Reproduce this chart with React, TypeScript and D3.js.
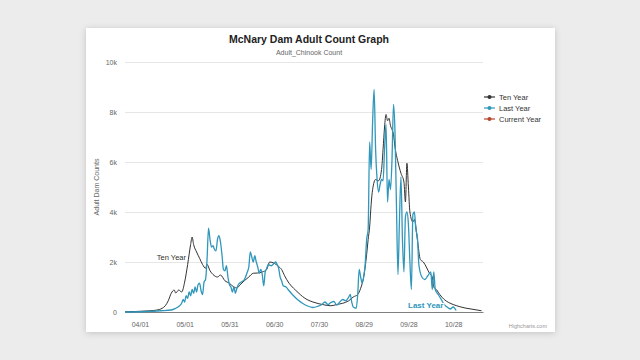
import React, { useEffect, useRef } from 'react';
import * as d3 from 'd3';

// Tick labels for the x axis (MM/DD) and y axis
const xTickLabels = ['04/01', '05/01', '05/31', '06/30', '07/30', '08/29', '09/28', '10/28'];
const yTicks = [0, 2000, 4000, 6000, 8000, 10000];

const legendItems = ['Ten Year', 'Last Year', 'Current Year'];

// Ten year average daily counts [MM/DD, count]
const tenYear: [string, number][] = [
    ['03/22', 10], ['03/29', 20], ['04/05', 40], ['04/10', 60], ['04/14', 100], ['04/16', 150],
    ['04/18', 250], ['04/20', 450], ['04/22', 750], ['04/24', 880], ['04/25', 760], ['04/27', 880],
    ['04/29', 800], ['05/01', 1200], ['05/03', 1900], ['05/05', 2700], ['05/06', 3000], ['05/07', 2700],
    ['05/09', 2400], ['05/11', 2150], ['05/13', 1900], ['05/15', 1750], ['05/16', 1900], ['05/18', 1650],
    ['05/20', 1500], ['05/23', 1400], ['05/25', 1480], ['05/28', 1250], ['05/31', 1150], ['06/03', 1000],
    ['06/05', 960], ['06/07', 1080], ['06/10', 1250], ['06/13', 1400], ['06/16', 1550], ['06/19', 1560],
    ['06/22', 1600], ['06/25', 1700], ['06/27', 2000], ['06/30', 1950], ['07/03', 1820], ['07/05', 1700],
    ['07/07', 1450], ['07/10', 1150], ['07/13', 950], ['07/16', 780], ['07/19', 620], ['07/22', 500],
    ['07/26', 400], ['07/30', 330], ['08/03', 280], ['08/07', 250], ['08/11', 300], ['08/15', 350],
    ['08/19', 450], ['08/22', 600], ['08/25', 700], ['08/27', 950], ['08/29', 1400], ['08/31', 2300],
    ['09/01', 2900], ['09/02', 3400], ['09/03', 4300], ['09/04', 4900], ['09/06', 5300], ['09/08', 5250],
    ['09/10', 5700], ['09/11', 6500], ['09/12', 7400], ['09/13', 7900], ['09/14', 7650], ['09/15', 7750],
    ['09/16', 7450], ['09/17', 7300], ['09/18', 7100], ['09/19', 6600], ['09/21', 6000], ['09/23', 5550],
    ['09/25', 5200], ['09/26', 4400], ['09/27', 5950], ['09/28', 5000], ['09/29', 4000], ['10/01', 3600],
    ['10/02', 3700], ['10/04', 2900], ['10/06', 2100], ['10/08', 2000], ['10/10', 1800], ['10/12', 1560],
    ['10/14', 1400], ['10/15', 1000], ['10/17', 880], ['10/19', 700], ['10/22', 500], ['10/25', 380],
    ['10/28', 300], ['11/01', 220], ['11/05', 160], ['11/09', 120], ['11/13', 80], ['11/16', 50]
];

// Last year daily counts [MM/DD, count]
const lastYear: [string, number][] = [
    ['03/22', 0], ['04/05', 20], ['04/15', 50], ['04/22', 80], ['04/25', 150], ['04/27', 220],
    ['04/29', 350], ['04/30', 500], ['05/01', 400], ['05/02', 650], ['05/03', 550], ['05/04', 800],
    ['05/05', 650], ['05/06', 900], ['05/07', 750], ['05/08', 1000], ['05/09', 800], ['05/10', 1100],
    ['05/11', 1150], ['05/12', 850], ['05/13', 700], ['05/14', 1200], ['05/15', 1300], ['05/16', 2100],
    ['05/17', 3350], ['05/18', 2900], ['05/19', 2600], ['05/20', 2650], ['05/21', 2500], ['05/22', 2450],
    ['05/23', 2900], ['05/24', 3050], ['05/25', 2800], ['05/26', 2300], ['05/27', 1700], ['05/28', 1650],
    ['05/29', 1850], ['05/30', 1400], ['05/31', 1100], ['06/01', 1000], ['06/02', 800], ['06/03', 1000],
    ['06/04', 750], ['06/05', 950], ['06/06', 1100], ['06/08', 1200], ['06/10', 1300], ['06/12', 1600],
    ['06/13', 1800], ['06/14', 2400], ['06/15', 2200], ['06/16', 2000], ['06/17', 2250], ['06/18', 2000],
    ['06/19', 1800], ['06/20', 1550], ['06/21', 1700], ['06/22', 1500], ['06/23', 1050], ['06/24', 1600],
    ['06/25', 1750], ['06/26', 1900], ['06/28', 1850], ['06/30', 1950], ['07/01', 2000], ['07/02', 1900],
    ['07/03', 1750], ['07/04', 1400], ['07/05', 1250], ['07/06', 1050], ['07/08', 1000], ['07/10', 850],
    ['07/13', 650], ['07/16', 480], ['07/19', 350], ['07/22', 250], ['07/26', 180], ['07/29', 220],
    ['08/01', 300], ['08/03', 400], ['08/05', 300], ['08/07', 380], ['08/09', 420], ['08/11', 280],
    ['08/13', 400], ['08/15', 500], ['08/17', 450], ['08/19', 600], ['08/20', 700], ['08/21', 400],
    ['08/22', 200], ['08/24', 150], ['08/25', 700], ['08/26', 1700], ['08/27', 1400], ['08/28', 1150],
    ['08/29', 1400], ['08/30', 1900], ['08/31', 2900], ['09/01', 3300], ['09/02', 6800], ['09/03', 5700],
    ['09/04', 7600], ['09/05', 8900], ['09/06', 6500], ['09/07', 5300], ['09/08', 4800], ['09/09', 5100],
    ['09/10', 5300], ['09/11', 5250], ['09/12', 6500], ['09/13', 7500], ['09/14', 4400], ['09/15', 5300],
    ['09/16', 4900], ['09/17', 6100], ['09/18', 8300], ['09/19', 7200], ['09/20', 4200], ['09/21', 1500],
    ['09/22', 3700], ['09/23', 5400], ['09/24', 2900], ['09/25', 1600], ['09/26', 3800], ['09/27', 4000],
    ['09/28', 3500], ['09/29', 2000], ['09/30', 900], ['10/01', 3900], ['10/02', 4000], ['10/03', 3300],
    ['10/04', 3000], ['10/05', 1900], ['10/07', 1400], ['10/09', 1300], ['10/11', 1450], ['10/13', 1600],
    ['10/14', 900], ['10/15', 1600], ['10/16', 900], ['10/18', 700], ['10/20', 500], ['10/22', 300],
    ['10/24', 200], ['10/26', 120], ['10/28', 200], ['10/30', 60]
];

const colors = { ten: '#333333', last: '#3097bb', current: '#b8452c' };
const font = '"Liberation Sans", Arial, Helvetica, sans-serif';

const parse = d3.timeParse('%Y/%m/%d');
const toDate = (md: string) => parse(`2023/${md}`)!;

const App: React.FC = () => {
    const svgRef = useRef<SVGSVGElement>(null);

    useEffect(() => {
        const svg = d3.select(svgRef.current!);
        svg.selectAll('*').remove();

        const width = 640;
        const height = 360;
        const plotLeft = 125;
        const plotRight = 483;
        const plotTop = 62;
        const plotBottom = 312;

        const x = d3.scaleTime().domain([toDate('03/22'), toDate('11/17')]).range([plotLeft, plotRight]);
        const y = d3.scaleLinear().domain([0, 10000]).range([plotBottom, plotTop]);

        // Drop shadow for the card
        const defs = svg.append('defs');
        const f = defs.append('filter').attr('id', 'shadow').attr('x', '-10%').attr('y', '-10%').attr('width', '120%').attr('height', '120%');
        f.append('feDropShadow').attr('dx', 0).attr('dy', 1).attr('stdDeviation', 3).attr('flood-color', '#000').attr('flood-opacity', 0.18);

        svg.append('rect').attr('width', width).attr('height', height).attr('fill', '#ececec');
        svg.append('rect')
            .attr('x', 86).attr('y', 28).attr('width', 469).attr('height', 304)
            .attr('fill', '#fff').attr('filter', 'url(#shadow)');

        // Titles
        svg.append('text')
            .attr('x', 309).attr('y', 43).attr('text-anchor', 'middle')
            .attr('font-size', 10.5).attr('font-weight', 'bold').attr('fill', '#222')
            .text('McNary Dam Adult Count Graph');
        svg.append('text')
            .attr('x', 309).attr('y', 55).attr('text-anchor', 'middle')
            .attr('font-size', 7).attr('fill', '#666')
            .text('Adult_Chinook Count');

        // Gridlines + y axis
        svg.append('g')
            .attr('transform', `translate(${plotLeft},0)`)
            .call(
                d3.axisLeft(y)
                    .tickValues(yTicks)
                    .tickSize(-(plotRight - plotLeft))
                    .tickPadding(8)
                    .tickFormat((d) => (+d === 0 ? '0' : `${+d / 1000}k`))
            )
            .call((g) => g.select('.domain').remove())
            .call((g) => g.selectAll('.tick line').attr('stroke', '#e6e6e6'))
            .call((g) => g.selectAll('.tick text').attr('fill', '#666').attr('font-size', 7).attr('font-family', font));

        svg.append('text')
            .attr('transform', `translate(99,187) rotate(-90)`)
            .attr('text-anchor', 'middle')
            .attr('font-size', 7).attr('fill', '#666')
            .text('Adult Dam Counts');

        // X axis
        svg.append('g')
            .attr('transform', `translate(0,${plotBottom})`)
            .call(
                d3.axisBottom(x)
                    .tickValues(xTickLabels.map(toDate))
                    .tickSize(0)
                    .tickPadding(10)
                    .tickFormat((d) => d3.timeFormat('%m/%d')(d as Date))
            )
            .call((g) => g.select('.domain').attr('stroke', '#808080'))
            .call((g) => g.selectAll('.tick text').attr('fill', '#666').attr('font-size', 7).attr('font-family', font));

        // Lines
        const line = d3.line<[string, number]>()
            .x((d) => x(toDate(d[0])))
            .y((d) => y(d[1]))
            .curve(d3.curveMonotoneX);

        svg.append('path').datum(tenYear).attr('d', line).attr('fill', 'none')
            .attr('stroke', colors.ten).attr('stroke-width', 1);
        svg.append('path').datum(lastYear).attr('d', line).attr('fill', 'none')
            .attr('stroke', colors.last).attr('stroke-width', 1.3);

        // Series labels
        svg.append('text')
            .attr('x', 186).attr('y', 260).attr('text-anchor', 'end')
            .attr('font-size', 7.5).attr('fill', '#333')
            .attr('stroke', '#fff').attr('stroke-width', 2).attr('paint-order', 'stroke')
            .text('Ten Year');
        svg.append('text')
            .attr('x', 408).attr('y', 308)
            .attr('font-size', 8).attr('font-weight', 'bold').attr('fill', colors.last)
            .attr('stroke', '#fff').attr('stroke-width', 2).attr('paint-order', 'stroke')
            .text('Last Year');

        // Legend
        const legendColors = [colors.ten, colors.last, colors.current];
        const lg = svg.append('g').attr('transform', 'translate(484,97)');
        legendItems.forEach((name, i) => {
            const row = lg.append('g').attr('transform', `translate(0,${i * 11})`);
            row.append('line').attr('x1', 0).attr('x2', 11).attr('y1', 0).attr('y2', 0)
                .attr('stroke', legendColors[i]).attr('stroke-width', 1.2);
            row.append('circle').attr('cx', 5.5).attr('cy', 0).attr('r', 2).attr('fill', legendColors[i]);
            row.append('text').attr('x', 15).attr('y', 2.5)
                .attr('font-size', 7.5).attr('fill', '#333').text(name);
        });

        // Credits
        svg.append('text')
            .attr('x', 547).attr('y', 328).attr('text-anchor', 'end')
            .attr('font-size', 5.5).attr('fill', '#999')
            .text('Highcharts.com');
    }, []);

    return (
        <div style={{ position: 'fixed', left: 0, top: 0, width: 640, height: 360, background: '#ececec' }}>
            <svg ref={svgRef} width={640} height={360} style={{ display: 'block', fontFamily: font }} />
        </div>
    );
};

export default App;
